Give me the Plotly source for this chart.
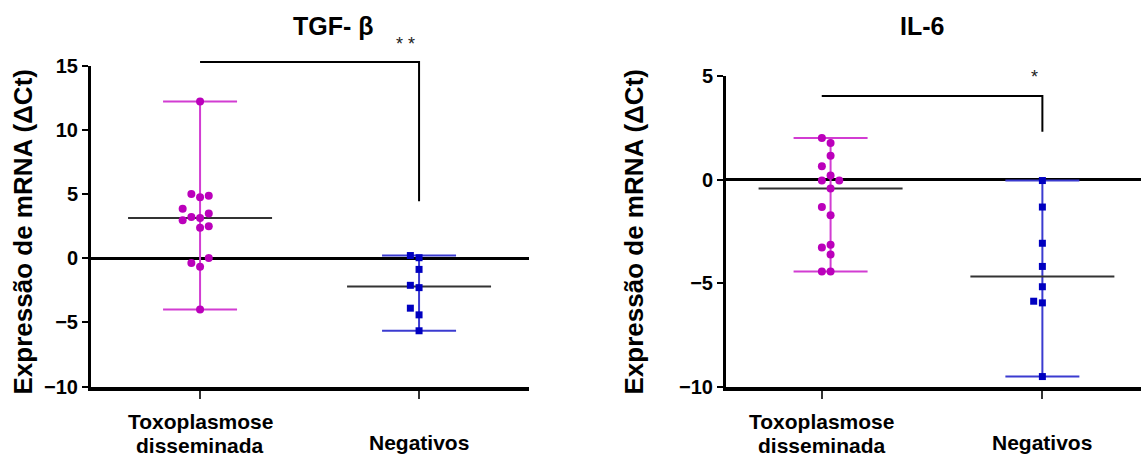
import numpy as np
import plotly.graph_objects as go

# ---------------- data (ΔCt values) ----------------
groups = ["Toxoplasmose<br>disseminada", "Negativos"]
panel_titles = ["TGF- β", "IL-6"]
y_title = "Expressão de mRNA (ΔCt)"

tgf_toxo = [12.2, 4.73, 5.0, 4.86, 3.13, 3.2, 3.47, 3.85, 2.36, 2.48, 2.95, -0.67, -0.39, 0.0, -4.0]
tgf_neg = [0.03, 0.2, -0.88, -2.3, -2.12, -4.42, -3.9, -5.66]
il6_toxo = [1.76, 2.0, 1.15, 0.19, 0.64, -0.05, -0.05, -0.43, -1.73, -1.33, -3.15, -3.28, -3.62, -4.44, -4.44]
il6_neg = [-0.05, -1.33, -3.08, -4.2, -5.18, -5.96, -5.88, -9.52]

tgf_ticks = [-10, -5, 0, 5, 10, 15]
il6_ticks = [-10, -5, 0, 5]
sig_labels = ["* *", "*"]

# ---------------- layout / style ----------------
W, H = 1141, 457
FONT = "Liberation Sans, Arial, sans-serif"
MAGENTA_DOT, MAGENTA_BAR = "#BB00BB", "#D23CD2"
BLUE_DOT, BLUE_BAR = "#0000C0", "#3B3BD0"
MEDIAN_COLOR = "#333333"
# vertical centres (px from top) of the category label rows
LABEL_ROWS = {1: [442.7], 2: [421.0, 445.0]}

panels = [
    dict(series=[tgf_toxo, tgf_neg], shifts=[0.0, 0.0], ticks=tgf_ticks,
         xdom=(91, 529), xr=(-0.498, 1.502), ydom=(386.5, 65.5), yr=(-10, 15),
         bracket=(15.28, 4.42), sig_y=16.67, sig_dx=-0.06,
         title_x=333, ytitle_x=22),
    dict(series=[il6_toxo, il6_neg], shifts=[0.04, 0.0], ticks=il6_ticks,
         xdom=(726, 1141), xr=(-0.434, 1.447), ydom=(386.5, 76), yr=(-10, 5),
         bracket=(4.03, 2.31), sig_y=4.95, sig_dx=-0.036,
         title_x=921.7, ytitle_x=633),
]


def px_per_unit(p):
    ppx = (p["xdom"][1] - p["xdom"][0]) / (p["xr"][1] - p["xr"][0])
    ppy = (p["ydom"][0] - p["ydom"][1]) / (p["yr"][1] - p["yr"][0])
    return ppx, ppy


def to_paper(p, x, y):
    fx = (x - p["xr"][0]) / (p["xr"][1] - p["xr"][0])
    fy = (y - p["yr"][0]) / (p["yr"][1] - p["yr"][0])
    px = p["xdom"][0] + fx * (p["xdom"][1] - p["xdom"][0])
    py = p["ydom"][0] - fy * (p["ydom"][0] - p["ydom"][1])
    return px / W, 1 - py / H


def swarm_slots(values, ppy, d_px=9.5):
    """Spread points sideways into columns so close values don't stack."""
    placed, slots = [], []
    for v in values:
        for s in (0, -1, 1, -2, 2, -3, 3):
            if all(not (ps == s and abs(pv - v) * ppy < d_px) for ps, pv in placed):
                break
        placed.append((s, v))
        slots.append(s)
    return np.array(slots)


fig = go.Figure()
annotations, shapes = [], []
SLOT_PX = 8.7

for k, p in enumerate(panels):
    xa = "x" if k == 0 else "x2"
    ya = "y" if k == 0 else "y2"
    ppx, ppy = px_per_unit(p)
    cap = 37 / ppx
    half_med = 72 / ppx

    for g, vals in enumerate(p["series"]):
        vals = np.asarray(vals, dtype=float)
        cx = g + p["shifts"][g]
        lo, hi, med = vals.min(), vals.max(), np.median(vals)
        bar_col = MAGENTA_BAR if g == 0 else BLUE_BAR
        dot_col = MAGENTA_DOT if g == 0 else BLUE_DOT

        # range whisker with caps
        fig.add_trace(go.Scatter(
            x=[cx, cx, None, cx - cap, cx + cap, None, cx - cap, cx + cap],
            y=[lo, hi, None, lo, lo, None, hi, hi],
            mode="lines", line=dict(color=bar_col, width=2),
            xaxis=xa, yaxis=ya, showlegend=False, hoverinfo="skip"))
        # median line
        fig.add_trace(go.Scatter(
            x=[cx - half_med, cx + half_med], y=[med, med],
            mode="lines", line=dict(color=MEDIAN_COLOR, width=2),
            xaxis=xa, yaxis=ya, showlegend=False, hoverinfo="skip"))
        # individual points
        slots = swarm_slots(vals, ppy)
        fig.add_trace(go.Scatter(
            x=cx + slots * SLOT_PX / ppx, y=vals, mode="markers",
            marker=dict(symbol="circle" if g == 0 else "square",
                        size=8 if g == 0 else 7, color=dot_col,
                        line=dict(width=0)),
            xaxis=xa, yaxis=ya, showlegend=False, cliponaxis=False))

        # category label under the axis, one text per row
        rows = groups[g].split("<br>")
        for row_text, row_y in zip(rows, LABEL_ROWS[len(rows)]):
            annotations.append(dict(
                x=g, y=1 - row_y / H, xref=xa, yref="paper",
                text=row_text, showarrow=False, xanchor="center", yanchor="middle",
                borderpad=0, borderwidth=0,
                font=dict(family=FONT, size=21, color="black", weight="bold")))

    # significance bracket
    top, bot = p["bracket"]
    x0, y0 = to_paper(p, 0.0, top)
    x1, _ = to_paper(p, 1.0, top)
    _, y1 = to_paper(p, 1.0, bot)
    shapes.append(dict(type="path", xref="paper", yref="paper",
                       path=f"M {x0},{y0} L {x1},{y0} L {x1},{y1}",
                       line=dict(color="black", width=2)))
    sx, sy = to_paper(p, 1.0 + p["sig_dx"], p["sig_y"])
    annotations.append(dict(x=sx, y=sy, xref="paper", yref="paper",
                            text=sig_labels[k], showarrow=False,
                            xanchor="center", yanchor="middle",
                            font=dict(family=FONT, size=18, color="#222222")))

    # panel title and y-axis title
    annotations.append(dict(x=p["title_x"] / W, y=1 - 26 / H, xref="paper", yref="paper",
                            text=panel_titles[k], showarrow=False,
                            xanchor="center", yanchor="middle",
                            font=dict(family=FONT, size=25, color="black", weight="bold")))
    annotations.append(dict(x=p["ytitle_x"] / W, y=1 - 232.5 / H, xref="paper", yref="paper",
                            text=y_title, showarrow=False, textangle=-90,
                            xanchor="center", yanchor="middle",
                            font=dict(family=FONT, size=26, color="black", weight="bold")))

    xaxis = dict(domain=[p["xdom"][0] / W, p["xdom"][1] / W], range=list(p["xr"]),
                 anchor=ya, showline=True, linewidth=4, linecolor="black",
                 ticks="outside", tickvals=[0, 1], ticklen=8, tickwidth=2,
                 tickcolor="#333333", showticklabels=False, showgrid=False,
                 zeroline=False, fixedrange=True, automargin=False)
    yaxis = dict(domain=[1 - p["ydom"][0] / H, 1 - p["ydom"][1] / H], range=list(p["yr"]),
                 anchor=xa, showline=True, linewidth=3, linecolor="black",
                 ticks="outside", tickvals=p["ticks"], ticklen=6, tickwidth=2,
                 tickcolor="black", showgrid=False, zeroline=True,
                 zerolinewidth=3, zerolinecolor="black", fixedrange=True,
                 automargin=False,
                 tickfont=dict(family=FONT, size=20, color="black", weight="bold"))
    if k == 0:
        fig.update_layout(xaxis=xaxis, yaxis=yaxis)
    else:
        fig.update_layout(xaxis2=xaxis, yaxis2=yaxis)

fig.update_layout(
    width=W, height=H, autosize=False,
    margin=dict(l=0, r=0, t=0, b=0, pad=0, autoexpand=False),
    paper_bgcolor="white", plot_bgcolor="white",
    annotations=annotations, shapes=shapes, showlegend=False,
    font=dict(family=FONT),
)

fig.write_html("out.html")
